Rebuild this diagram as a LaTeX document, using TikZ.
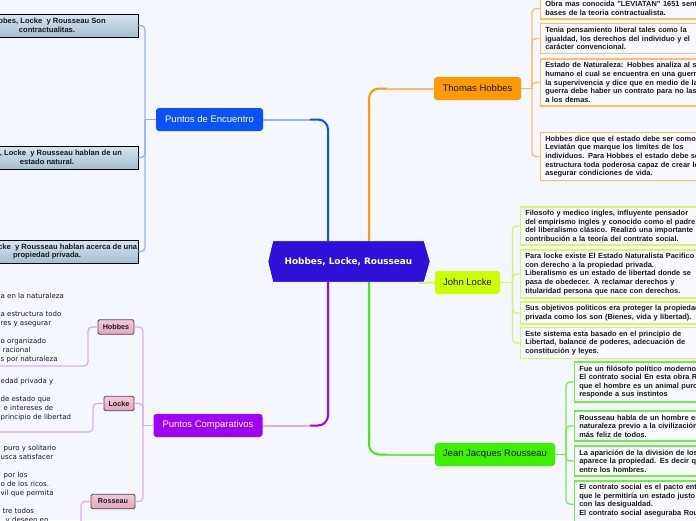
\documentclass[tikz,border=0pt]{standalone}
\usepackage{fontspec}
\setmainfont{Liberation Sans}
\newfontfamily\dvs{DejaVu Sans}
\usetikzlibrary{calc}
\definecolor{bg}{RGB}{244,247,254}
\definecolor{cen}{RGB}{46,16,216}
\definecolor{peC}{RGB}{12,82,250}
\definecolor{peL}{RGB}{150,175,250}
\definecolor{pcC}{RGB}{158,0,248}
\definecolor{pcL}{RGB}{220,170,250}
\definecolor{thC}{RGB}{255,153,0}
\definecolor{thL}{RGB}{255,190,100}
\definecolor{jlC}{RGB}{204,255,0}
\definecolor{jlL}{RGB}{218,244,100}
\definecolor{jrC}{RGB}{60,240,0}
\definecolor{jrL}{RGB}{115,236,70}
\definecolor{boxT}{RGB}{214,228,240}
\definecolor{boxB}{RGB}{166,190,206}
\definecolor{pinkT}{RGB}{242,200,216}
\definecolor{pinkB}{RGB}{226,168,190}
\definecolor{txt}{RGB}{25,25,25}
\definecolor{boxfill}{RGB}{249,250,255}
\begin{document}
\begin{tikzpicture}[x=1pt,y=-1pt,
  topic/.style={rounded corners=3, minimum height=23, inner sep=0, font=\fontsize{9.5}{11}\selectfont},
  lbox/.style={draw=black, line width=0.9, top color=boxT, bottom color=boxB, minimum width=182, minimum height=23, inner sep=0, align=center, text=txt, font=\bfseries\fontsize{7.6}{8.8}\selectfont},
  pbox/.style={draw={rgb,255:red,80;green,70;blue,80}, line width=0.9, top color=pinkT, bottom color=pinkB, rounded corners=1.5, inner sep=0, minimum height=14.5, text=txt, font=\bfseries\fontsize{7.2}{8.6}\selectfont},
  rbox/.style={draw, line width=1.6, fill=boxfill, anchor=west, inner xsep=5, inner ysep=3.5, text width=200, align=left, text=txt, font=\bfseries\fontsize{7.4}{8.6}\selectfont},
  ltext/.style={anchor=north west, inner sep=0, align=left, text=txt, font=\dvs\fontsize{7}{9}\selectfont},
  mainline/.style={line width=2, rounded corners=10},
  trunk/.style={line width=1.2, rounded corners=4}]
\useasboundingbox (0,0) rectangle (696,520);
\fill[bg] (0,0) rectangle (696,520);
\clip (0,0) rectangle (696,520);

% central hexagon
\path node[minimum width=151, minimum height=41, inner sep=0] (c) at (348.5,261.5) {};
\filldraw[fill=cen, draw=white, line width=0.8] (c.north west) -- (c.north east) -- ($(c.east)+(6,0)$) -- (c.south east) -- (c.south west) -- ($(c.west)+(-5,0)$) -- cycle;
\node[font=\dvs\bfseries\fontsize{8.9}{10}\selectfont, text=white] (ct) at (c) {Hobbes, Locke, Rousseau};

% main topics
\node[topic, fill=peC, text=white, minimum width=107] (pe) at (209.5,119.5) {Puntos de Encuentro};
\node[topic, fill=pcC, text=white, minimum width=109] (pc) at (208,425.5) {Puntos Comparativos};
\node[topic, fill=thC, text=txt, minimum width=87] (th) at (477.5,88.5) {Thomas Hobbes};
\node[topic, fill=jlC, text=txt, minimum width=65] (jl) at (467.5,282.5) {John Locke};
\node[topic, fill=jrC, text=txt, minimum width=120] (jr) at (495,454.5) {Jean Jacques Rousseau};

% main connectors
\coordinate (kpe) at (328,119.5);
\draw[mainline, peC] (c.north -| kpe) -- (kpe) -- ($(kpe)+(-18,0)$);
\draw[mainline, peL] ($(kpe)+(-18,0)$) -- (pe.east);
\coordinate (kpc) at (328,425.5);
\draw[mainline, pcC] (c.south -| kpc) -- (kpc) -- ($(kpc)+(-18,0)$);
\draw[mainline, pcL] ($(kpc)+(-18,0)$) -- (pc.east);
\coordinate (kth) at (369,88.5);
\draw[mainline, thC] (c.north -| kth) -- (kth) -- ($(kth)+(18,0)$);
\draw[mainline, thL] ($(kth)+(18,0)$) -- (th.west);
\coordinate (kjr) at (369,454.5);
\draw[mainline, jrC] (c.south -| kjr) -- (kjr) -- ($(kjr)+(18,0)$);
\draw[mainline, jrL] ($(kjr)+(18,0)$) -- (jr.west);
\coordinate (kjl) at (418,283);
\draw[mainline, jlL] (kjl) -- (jl.west);

% Puntos de Encuentro children
\node[lbox] (e1) at (47,25.5) {Hobbes, Locke\ \ y Rousseau Son\\contractualitas.};
\node[lbox] (e2) at (47,157.5) {Hobbes, Locke\ \ y Rousseau hablan de un\\estado natural.};
\node[lbox] (e3) at (47,251.5) {Hobbes, Locke\ \ y Rousseau hablan acerca de una\\propiedad privada.};
\coordinate (jpe) at (145,119.5);
\draw[trunk, peL] (pe.west) -- (jpe);
\draw[trunk, peL] (jpe) |- (e1.east);
\draw[trunk, peL] (jpe) |- (e2.east);
\draw[trunk, peL] (jpe) |- (e3.east);

% Puntos Comparativos children
\node[pbox, minimum width=36] (hb) at (116,327) {Hobbes};
\node[pbox, minimum width=30] (lb) at (119,403.5) {Locke};
\node[pbox, minimum width=44] (rb) at (113,501.5) {Rosseau};
\coordinate (jpc) at (143,425.5);
\draw[trunk, pcL] (pc.west) -- (jpc);
\draw[trunk, pcL] (jpc) |- (hb.east);
\draw[trunk, pcL] (jpc) |- (lb.east);
\draw[trunk, pcL] (jpc) |- (rb.east);

% left texts
\node[ltext] (ht) at (0.5,292.5) {a en la naturaleza\\[9pt]a estructura todo\\res y asegurar\\[9pt]o organizado\\\hspace{2pt}racional\\s por naturaleza};
\coordinate (hk) at (88,327);
\coordinate (hu) at (-5,366);
\draw[trunk, pcL] (hb.west) -- (hk) |- (hu);

\node[ltext] (lt) at (0.5,377.5) {edad privada y\\[9pt]de estado que\\\hspace{3pt}e intereses de\\principio de libertad};
\coordinate (lk) at (93,403.5);
\coordinate (lu) at (-5,432);
\draw[trunk, pcL] (lb.west) -- (lk) |- (lu);

\node[ltext] (rt) at (0.5,444.5) {\hspace{3pt}puro y solitario\\usca satisfacer\\[9pt]\hspace{3pt}por los\\o de los ricos.\\vil que permita\\[9pt]\hspace{2pt}tre todos\\\hspace{5pt}y deseen en};
\coordinate (rk) at (81,501.5);
\coordinate (ru) at (-5,545);
\draw[trunk, pcL] (rb.west) -- (rk) |- (ru);

% Thomas Hobbes children
\node[rbox, draw=thL] (h1) at (539.5,8.5) {Obra mas conocida "LEVIATAN" 1651 sent\\bases de la teoria contractualista.};
\node[rbox, draw=thL] (h2) at (539.5,38.5) {Tenia pensamiento liberal tales como la\\igualdad, los derechos del individuo y el\\carácter convencional.};
\node[rbox, draw=thL] (h3) at (539.5,82.5) {Estado de Naturaleza: Hobbes analiza al se\\humano el cual se encuentra en una guerra\\la supervivencia y dice que en medio de la\\guerra debe haber un contrato para no las\\a los demas.};
\node[rbox, draw=thL] (h4) at (539.5,156.5) {Hobbes dice que el estado debe ser como\\Leviatán que marque los limites de los\\individuos. Para Hobbes el estado debe se\\estructura toda poderosa capaz de crear le\\asegurar condiciones de vida.};
\coordinate (jth) at (532,88.5);
\draw[trunk, thL] (th.east) -- (jth);
\draw[trunk, thL] (jth) |- (h1.west);
\draw[trunk, thL] (jth) |- (h2.west);
\draw[trunk, thL] (jth) |- (h3.west);
\draw[trunk, thL] (jth) |- (h4.west);

% John Locke children
\node[rbox, draw=jlL] (l1) at (519.5,226) {Filosofo y medico ingles, influyente pensador\\del empirismo ingles y conocido como el padre\\del liberalismo clásico. Realizó una importante\\contribución a la teoría del contrato social.};
\node[rbox, draw=jlL] (l2) at (519.5,274) {Para locke existe El Estado Naturalista Pacifico\\con derecho a la propiedad privada.\\Liberalismo es un estado de libertad donde se\\pasa de obedecer. A reclamar derechos y\\titularidad persona que nace con derechos.};
\node[rbox, draw=jlL] (l3) at (519.5,313) {Sus objetivos politicos era proteger la propiedad\\privada como los son (Bienes, vida y libertad).};
\node[rbox, draw=jlL] (l4) at (519.5,343) {Este sistema esta basado en el principio de\\Libertad, balance de poderes, adecuación de\\constitución y leyes.};
\coordinate (jjl) at (512.5,282.5);
\draw[trunk, jlL] (jl.east) -- (jjl);
\draw[trunk, jlL] (jjl) |- (l1.west);
\draw[trunk, jlL] (jjl) |- (l2.west);
\draw[trunk, jlL] (jjl) |- (l3.west);
\draw[trunk, jlL] (jjl) |- (l4.west);

% Rousseau children
\node[rbox, draw=jrL] (r1) at (573.5,382) {Fue un filósofo político moderno\\El contrato social En esta obra R\\que el hombre es un animal puro\\responde a sus instintos};
\node[rbox, draw=jrL] (r2) at (573.5,426) {Rousseau habla de un hombre en\\naturaleza previo a la civilización\\más feliz de todos.};
\node[rbox, draw=jrL] (r3) at (573.5,461) {La aparición de la división de los\\aparece la propiedad. Es decir qu\\entre los hombres.};
\node[rbox, draw=jrL, anchor=north west] (r4) at (573.5,480) {El contrato social es el pacto ent\\que le permitiría un estado justo\\con las desigualdad.\\El contrato social aseguraba Rou\\\mbox{}};
\coordinate (jjr) at (566,454.5);
\draw[trunk, jrL] (jr.east) -- (jjr);
\draw[trunk, jrL] (jjr) |- (r1.west);
\draw[trunk, jrL] (jjr) |- (r2.west);
\draw[trunk, jrL] (jjr) |- (r3.west);
\draw[trunk, jrL] (jjr) |- (r4.west);
\end{tikzpicture}
\end{document}
